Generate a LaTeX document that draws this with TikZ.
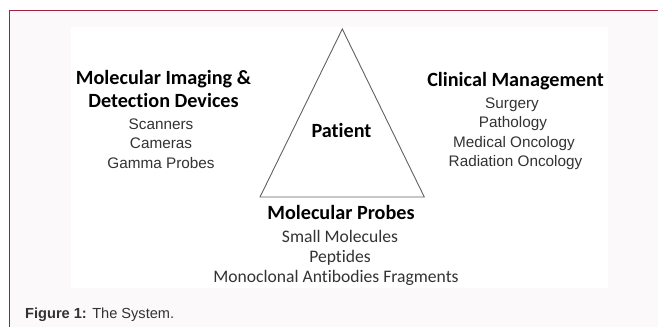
\documentclass[tikz,border=0pt]{standalone}
\usepackage{fontspec}
\usepackage{tikz}
\newfontfamily\calfont[Ligatures={NoCommon}]{Carlito}
\newfontfamily\arfont{Liberation Sans}
\definecolor{mframe}{rgb}{0.64, 0.13, 0.25}
\definecolor{mback}{rgb}{0.99, 0.975, 0.98}
\definecolor{mline}{rgb}{0.38, 0.38, 0.38}
\definecolor{mtext}{rgb}{0.2, 0.2, 0.2}
\tikzset{head/.style = {anchor=base, inner sep=0, font=\calfont\bfseries\fontsize{20.2}{24}\selectfont}}
\tikzset{tool/.style = {anchor=base, inner sep=0, text=mtext, font=\arfont\fontsize{15.3}{18}\selectfont}}
\tikzset{probe/.style = {anchor=base, inner sep=0, text=mtext, font=\calfont\fontsize{17.6}{20}\selectfont}}

\begin{document}
\begin{tikzpicture}[x=1pt, y=-1pt]
    \useasboundingbox (0, 0) rectangle (658, 327);

    \fill [mback] (9.5, 10.5) rectangle (658, 327);
    \draw [mframe, line width=1.5] (9.5, 327) -- (9.5, 10.5) -- (658, 10.5);
    \fill [white] (71, 27) rectangle (608, 287.5);

    \coordinate (apex) at (342.3, 29);
    \coordinate (baseL) at (260, 197);
    \coordinate (baseR) at (424.3, 197);
    \draw [mline, line width=0.9] (apex) -- (baseR) -- (baseL) -- cycle;

    \node [head] (patient) at (341.5, 137) {Patient};

    \node [head] (imaging) at (163.5, 84) {Molecular Imaging \&};
    \node [head] (devices) at (163.5, 107) {Detection Devices};
    \node [tool] (scanners) at (161, 129) {Scanners};
    \node [tool] (cameras) at (161, 148.5) {Cameras};
    \node [tool] (gamma) at (161, 168) {Gamma Probes};

    \node [head] (clinical) at (515.5, 86) {Clinical Management};
    \node [tool] (surgery) at (512, 108) {Surgery};
    \node [tool] (pathology) at (513, 127.5) {Pathology};
    \node [tool] (medical) at (514, 147) {Medical Oncology};
    \node [tool] (radiation) at (515.5, 166.5) {Radiation Oncology};

    \node [head] (probes) at (341, 219) {Molecular Probes};
    \node [probe] (small) at (340, 242) {Small Molecules};
    \node [probe] (peptides) at (340, 262) {Peptides};
    \node [probe] (mabs) at (336, 282) {Monoclonal Antibodies Fragments};

    \node [anchor=base west, inner sep=0, text=mtext, font=\arfont\fontsize{14.6}{16}\selectfont] (caption) at (25, 318)
      {\textbf{Figure 1:} The System.};
\end{tikzpicture}
\end{document}
